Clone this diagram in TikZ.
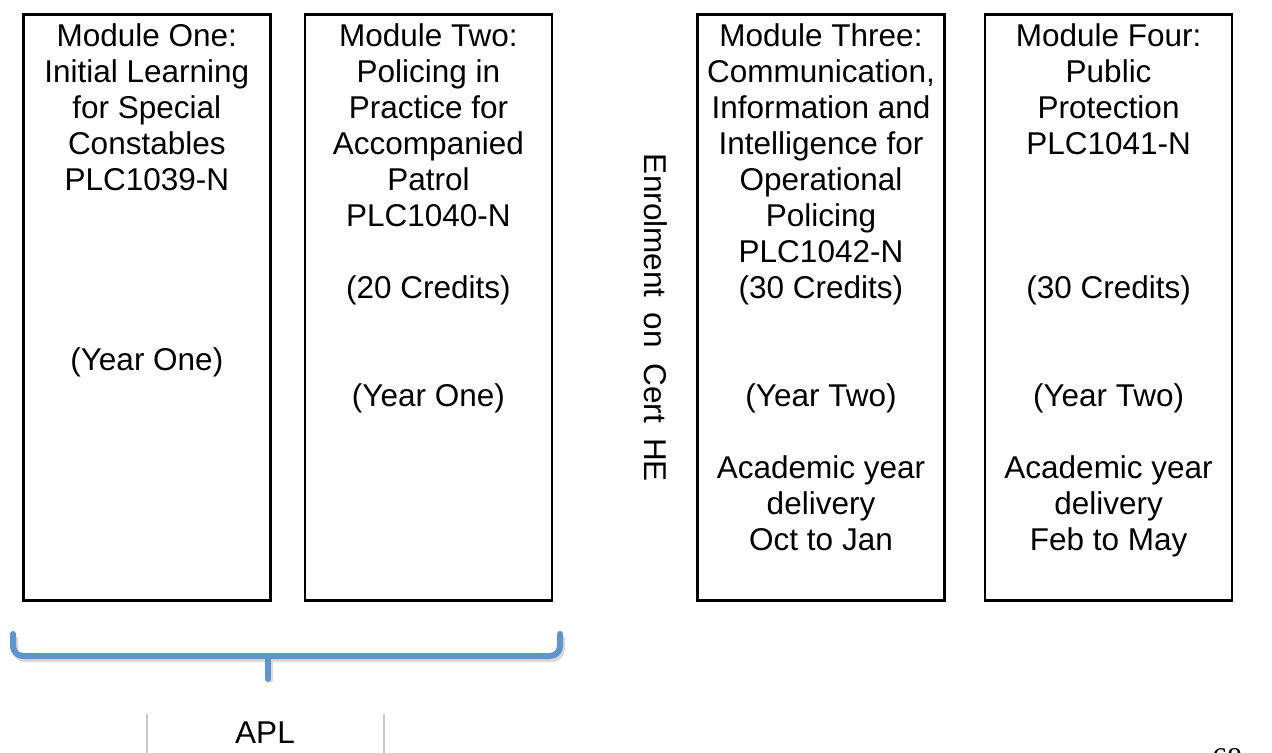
\documentclass[tikz,border=0pt]{standalone}
\usepackage{fontspec}
\setmainfont{Liberation Sans}
\newfontfamily\pagefont{Liberation Serif}
\usetikzlibrary{positioning}
\definecolor{bracketblue}{HTML}{5F95CD}
\definecolor{tablegrey}{HTML}{C8C8C8}
\newcommand{\modtext}[1]{\parbox[c][293pt][t]{123.5pt}{\centering\vspace*{4.75pt}#1}}

\begin{document}
\begin{tikzpicture}[
    x=0.5pt, y=-0.5pt,
    node distance=16pt,
    modbox/.style={draw, line width=1.3pt, inner sep=0pt, font=\fontsize{15.75}{18}\selectfont},
    vlabel/.style={rotate=-90, inner sep=0pt, font=\fontsize{15.75}{18}\selectfont},
    plain/.style={inner sep=0pt, font=\fontsize{15.75}{18}\selectfont},
    bracket/.style={line width=3pt, draw=bracketblue, rounded corners=5pt, line cap=round},
    bshadow/.style={line width=3pt, draw=black!15, rounded corners=5pt, transform canvas={xshift=1pt, yshift=-1.5pt}},
]
\useasboundingbox (0,0) rectangle (1272,753);

% year one
\node[modbox, anchor=north west] (mod1) at (22,13) {\modtext{Module One:\\Initial Learning\\for Special\\Constables\\PLC1039-N\\~\\~\\~\\~\\(Year One)}};
\node[modbox, right=of mod1] (mod2) {\modtext{Module Two:\\Policing in\\Practice for\\Accompanied\\Patrol\\PLC1040-N\\~\\(20 Credits)\\~\\~\\(Year One)}};

% year two
\node[modbox, right=71.5pt of mod2] (mod3) {\modtext{Module Three:\\Communication,\\Information and\\Intelligence for\\Operational\\Policing\\PLC1042-N\\(30 Credits)\\~\\~\\(Year Two)\\~\\Academic year\\delivery\\Oct to Jan}};
\node[modbox, right=19pt of mod3] (mod4) {\modtext{Module Four:\\Public\\Protection\\PLC1041-N\\~\\~\\~\\(30 Credits)\\~\\~\\(Year Two)\\~\\Academic year\\delivery\\Feb to May}};

\node[vlabel] (enrol) at (656,318) {\makebox[164pt]{Enrolment\hfill on\hfill Cert\hfill HE}};

% bracket under the first two modules
\coordinate (bl) at (13,634);
\coordinate (br) at (560,634);
\coordinate (bmid) at (268,656);
\coordinate (btip) at (268,679);
\draw[bshadow] (bl) |- (bmid) -| (br);
\draw[bshadow] (bmid) -- (btip);
\draw[bracket] (bl) |- (bmid) -| (br);
\draw[bracket] (bmid) -- (btip);

\node[plain] (apl) at (265,733) {APL};
\draw[tablegrey, line width=0.6pt] (147,714) -- (147,760);
\draw[tablegrey, line width=0.6pt] (384,714) -- (384,760);

\node[inner sep=0pt, anchor=north, font=\pagefont\fontsize{15}{18}\selectfont] (pageno) at (1227,748) {68};
\end{tikzpicture}
\end{document}
